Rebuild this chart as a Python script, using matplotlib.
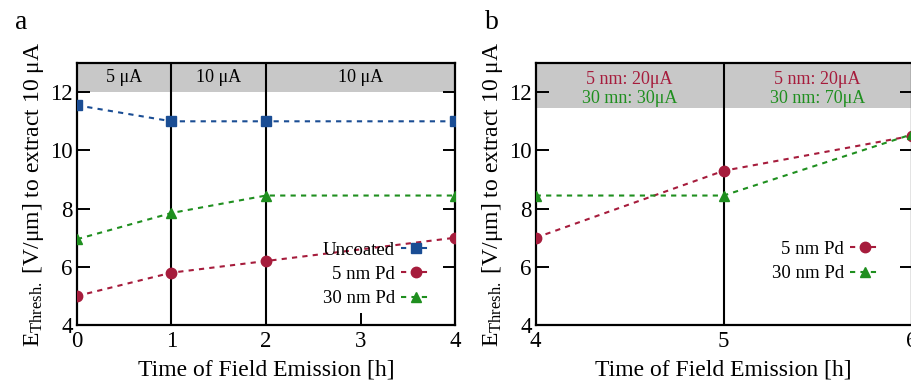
import matplotlib

matplotlib.use("Agg")
import matplotlib.pyplot as plt

plt.rcParams["font.family"] = ["Liberation Serif", "DejaVu Serif"]
plt.rcParams["mathtext.fontset"] = "custom"
plt.rcParams["mathtext.rm"] = "Liberation Serif"
plt.rcParams["mathtext.it"] = "Liberation Serif:italic"

# panel a data
hours_a = [0, 1, 2, 4]
uncoated_a = [11.55, 11.0, 11.0, 11.0]
pd5_a = [5.0, 5.8, 6.2, 7.0]
pd30_a = [6.95, 7.85, 8.45, 8.45]
band_a_pos = [0.5, 1.5, 3.0]
band_a_text = ["5 μA", "10 μA", "10 μA"]

# panel b data
hours_b = [4, 5, 6]
pd5_b = [7.0, 9.3, 10.5]
pd30_b = [8.45, 8.45, 10.55]
band_b_pos = [4.5, 5.5]
band_b_red = ["5 nm: 20μA", "5 nm: 20μA"]
band_b_green = ["30 mn: 30μA", "30 nm: 70μA"]

BLUE = "#1a4d94"
RED = "#a61c3c"
GREEN = "#1f8f1f"
GRAY = "#c8c8c8"
TICK_FS = 16.5
LABEL_FS = 17
SMALL_FS = 13
DASH = (0, (2.5, 2.5))
YLABEL = r"E$_{\mathrm{Thresh.}}$ [V/μm] to extract 10 μA"


def style_axis(ax):
    for sp in ax.spines.values():
        sp.set_linewidth(1.6)
    ax.tick_params(direction="in", length=9, width=1.4, labelsize=TICK_FS,
                   right=True, top=False)
    ax.tick_params(axis="x", pad=4)
    ax.tick_params(axis="y", pad=3)
    ax.set_ylim(4, 13)
    ax.set_yticks([4, 6, 8, 10, 12])
    ax.set_xlabel("Time of Field Emission [h]", fontsize=LABEL_FS, labelpad=6)
    ax.set_ylabel(YLABEL, fontsize=LABEL_FS, labelpad=3)


fig = plt.figure(figsize=(9.11, 3.87), dpi=100)

ax_a = fig.add_axes([0.0845, 0.160, 0.415, 0.677])
ax_a.axhspan(12, 13, color=GRAY, zorder=0, lw=0)
for xv in (1, 2):
    ax_a.axvline(xv, color="black", lw=1.5, zorder=1)
ax_a.plot(hours_a, uncoated_a, color=BLUE, ls=DASH, lw=1.5, marker="s", ms=7,
          label="Uncoated", zorder=3)
ax_a.plot(hours_a, pd5_a, color=RED, ls=DASH, lw=1.5, marker="o", ms=7.5,
          label="5 nm Pd", zorder=3)
ax_a.plot(hours_a, pd30_a, color=GREEN, ls=DASH, lw=1.5, marker="^", ms=7,
          label="30 nm Pd", zorder=3)
for xp, txt in zip(band_a_pos, band_a_text):
    ax_a.text(xp, 12.5, txt, ha="center", va="center", fontsize=SMALL_FS)
ax_a.set_xlim(0, 4)
ax_a.set_xticks([0, 1, 2, 3, 4])
style_axis(ax_a)
ax_a.legend(loc="lower right", bbox_to_anchor=(0.955, 0.04), frameon=False,
            markerfirst=False, fontsize=13.5, handlelength=1.6,
            handletextpad=0.3, labelspacing=0.38, borderaxespad=0)

ax_b = fig.add_axes([0.588, 0.160, 0.4127, 0.677])
ax_b.axhspan(11.45, 13, color=GRAY, zorder=0, lw=0)
ax_b.axvline(5, color="black", lw=1.5, zorder=1)
ax_b.plot(hours_b, pd5_b, color=RED, ls=DASH, lw=1.5, marker="o", ms=7.5,
          label="5 nm Pd", zorder=3)
ax_b.plot(hours_b, pd30_b, color=GREEN, ls=DASH, lw=1.5, marker="^", ms=7,
          label="30 nm Pd", zorder=3)
for xp, red_txt, green_txt in zip(band_b_pos, band_b_red, band_b_green):
    ax_b.text(xp, 12.45, red_txt, ha="center", va="center", fontsize=SMALL_FS,
              color=RED)
    ax_b.text(xp, 11.78, green_txt, ha="center", va="center", fontsize=SMALL_FS,
              color=GREEN)
ax_b.set_xlim(4, 6)
ax_b.set_xticks([4, 5, 6])
style_axis(ax_b)
ax_b.legend(loc="lower right", bbox_to_anchor=(0.935, 0.135), frameon=False,
            markerfirst=False, fontsize=13.5, handlelength=1.6,
            handletextpad=0.3, labelspacing=0.38, borderaxespad=0)

fig.text(0.016, 0.975, "a", fontsize=20, va="top")
fig.text(0.532, 0.975, "b", fontsize=20, va="top")

fig.savefig("out.png", dpi=100)
